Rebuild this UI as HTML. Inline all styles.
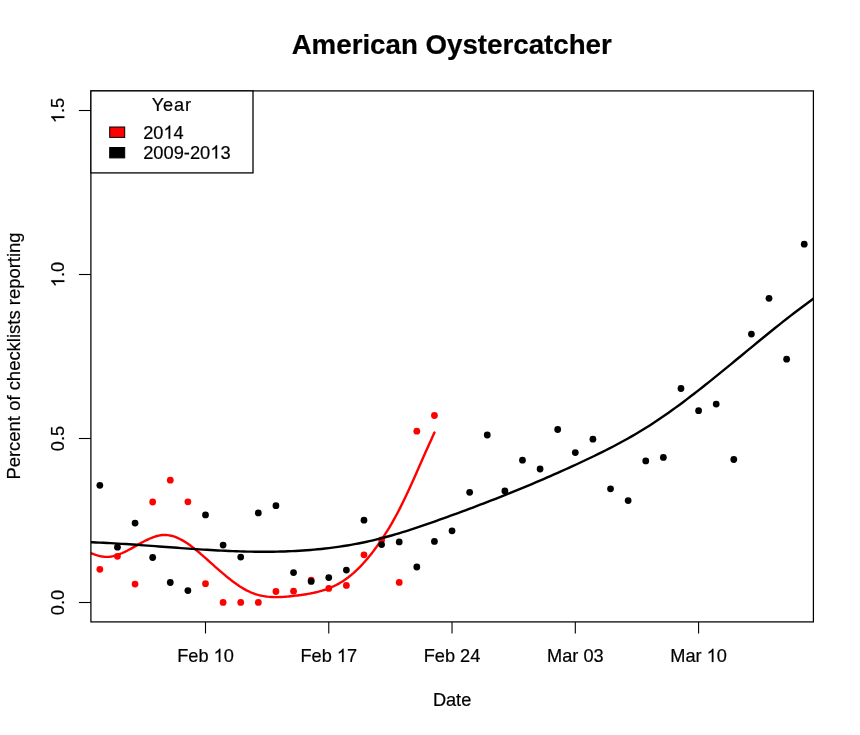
<!DOCTYPE html>
<html><head><meta charset="utf-8"><style>
html,body{margin:0;padding:0;background:#fff;}
svg{display:block;will-change:transform;}
text{font-family:"Liberation Sans",sans-serif;fill:#000;stroke:#000;stroke-width:0.2px;}
.one{fill:none;stroke:none;}
</style></head><body>
<svg width="860" height="735" viewBox="0 0 860 735">
<rect x="0" y="0" width="860" height="735" fill="#fff"/>
<defs><clipPath id="pc"><rect x="90.9" y="90.9" width="722.50" height="531.00"/></clipPath></defs>
<text x="451.7" y="54.3" text-anchor="middle" font-weight="bold" font-size="27.7">American Oystercatcher</text>
<g fill="#ff0000"><circle cx="99.84" cy="569.30" r="3.38"/><circle cx="117.45" cy="556.30" r="3.38"/><circle cx="135.06" cy="584.10" r="3.38"/><circle cx="152.67" cy="502.00" r="3.38"/><circle cx="170.28" cy="480.20" r="3.38"/><circle cx="187.89" cy="501.80" r="3.38"/><circle cx="205.50" cy="583.70" r="3.38"/><circle cx="223.11" cy="602.40" r="3.38"/><circle cx="240.72" cy="602.40" r="3.38"/><circle cx="258.33" cy="602.40" r="3.38"/><circle cx="275.94" cy="591.50" r="3.38"/><circle cx="293.55" cy="591.20" r="3.38"/><circle cx="311.16" cy="580.20" r="3.38"/><circle cx="328.77" cy="588.40" r="3.38"/><circle cx="346.38" cy="585.40" r="3.38"/><circle cx="363.99" cy="554.80" r="3.38"/><circle cx="381.60" cy="539.90" r="3.38"/><circle cx="399.21" cy="582.40" r="3.38"/><circle cx="416.82" cy="431.20" r="3.38"/><circle cx="434.43" cy="415.50" r="3.38"/></g>
<g clip-path="url(#pc)"><path d="M85.00,550.86 L86.76,551.53 L88.51,552.22 L90.27,552.90 L92.03,553.57 L93.78,554.22 L95.54,554.82 L97.29,555.37 L99.05,555.86 L100.81,556.27 L102.56,556.58 L104.32,556.80 L106.08,556.90 L107.83,556.88 L109.59,556.74 L111.34,556.51 L113.10,556.17 L114.86,555.74 L116.61,555.23 L118.37,554.64 L120.13,553.98 L121.88,553.25 L123.64,552.46 L125.39,551.62 L127.15,550.74 L128.91,549.81 L130.66,548.86 L132.42,547.88 L134.18,546.89 L135.93,545.89 L137.69,544.89 L139.44,543.90 L141.20,542.92 L142.96,541.97 L144.71,541.04 L146.47,540.15 L148.23,539.30 L149.98,538.51 L151.74,537.78 L153.49,537.11 L155.25,536.52 L157.01,536.01 L158.76,535.59 L160.52,535.27 L162.28,535.05 L164.03,534.94 L165.79,534.96 L167.55,535.09 L169.30,535.34 L171.06,535.70 L172.81,536.16 L174.57,536.73 L176.33,537.39 L178.08,538.14 L179.84,538.98 L181.60,539.90 L183.35,540.90 L185.11,541.97 L186.86,543.10 L188.62,544.30 L190.38,545.56 L192.13,546.87 L193.89,548.23 L195.65,549.63 L197.40,551.07 L199.16,552.54 L200.91,554.04 L202.67,555.57 L204.43,557.11 L206.18,558.67 L207.94,560.24 L209.70,561.82 L211.45,563.39 L213.21,564.97 L214.96,566.54 L216.72,568.10 L218.48,569.65 L220.23,571.18 L221.99,572.70 L223.75,574.19 L225.50,575.67 L227.26,577.11 L229.02,578.53 L230.77,579.91 L232.53,581.25 L234.28,582.56 L236.04,583.82 L237.80,585.04 L239.55,586.21 L241.31,587.33 L243.07,588.39 L244.82,589.39 L246.58,590.34 L248.33,591.21 L250.09,592.02 L251.85,592.76 L253.60,593.44 L255.36,594.04 L257.12,594.59 L258.87,595.07 L260.63,595.50 L262.38,595.87 L264.14,596.18 L265.90,596.45 L267.65,596.67 L269.41,596.84 L271.17,596.97 L272.92,597.06 L274.68,597.12 L276.43,597.13 L278.19,597.12 L279.95,597.07 L281.70,596.99 L283.46,596.89 L285.22,596.76 L286.97,596.62 L288.73,596.45 L290.48,596.27 L292.24,596.08 L294.00,595.88 L295.75,595.66 L297.51,595.44 L299.27,595.22 L301.02,594.98 L302.78,594.74 L304.54,594.48 L306.29,594.20 L308.05,593.91 L309.80,593.60 L311.56,593.27 L313.32,592.91 L315.07,592.52 L316.83,592.11 L318.59,591.67 L320.34,591.19 L322.10,590.67 L323.85,590.12 L325.61,589.53 L327.37,588.90 L329.12,588.22 L330.88,587.49 L332.64,586.72 L334.39,585.90 L336.15,585.02 L337.90,584.08 L339.66,583.09 L341.42,582.04 L343.17,580.93 L344.93,579.75 L346.69,578.50 L348.44,577.19 L350.20,575.80 L351.95,574.35 L353.71,572.83 L355.47,571.24 L357.22,569.58 L358.98,567.85 L360.74,566.06 L362.49,564.20 L364.25,562.27 L366.01,560.27 L367.76,558.21 L369.52,556.08 L371.27,553.88 L373.03,551.62 L374.79,549.29 L376.54,546.90 L378.30,544.44 L380.06,541.91 L381.81,539.32 L383.57,536.66 L385.32,533.94 L387.08,531.14 L388.84,528.27 L390.59,525.33 L392.35,522.30 L394.11,519.20 L395.86,516.01 L397.62,512.73 L399.37,509.35 L401.13,505.89 L402.89,502.34 L404.64,498.71 L406.40,495.01 L408.16,491.25 L409.91,487.43 L411.67,483.56 L413.42,479.66 L415.18,475.72 L416.94,471.76 L418.69,467.78 L420.45,463.79 L422.21,459.81 L423.96,455.83 L425.72,451.86 L427.47,447.92 L429.23,444.00 L430.99,440.13 L432.74,436.30 L434.50,432.53" fill="none" stroke="#ff0000" stroke-width="2.4" stroke-linecap="round" stroke-linejoin="round"/></g>
<g fill="#000"><circle cx="99.84" cy="485.30" r="3.38"/><circle cx="117.45" cy="547.20" r="3.38"/><circle cx="135.06" cy="523.10" r="3.38"/><circle cx="152.67" cy="557.50" r="3.38"/><circle cx="170.28" cy="582.50" r="3.38"/><circle cx="187.89" cy="590.60" r="3.38"/><circle cx="205.50" cy="514.90" r="3.38"/><circle cx="223.11" cy="545.10" r="3.38"/><circle cx="240.72" cy="557.10" r="3.38"/><circle cx="258.33" cy="512.90" r="3.38"/><circle cx="275.94" cy="505.70" r="3.38"/><circle cx="293.55" cy="572.60" r="3.38"/><circle cx="311.16" cy="581.40" r="3.38"/><circle cx="328.77" cy="577.60" r="3.38"/><circle cx="346.38" cy="570.10" r="3.38"/><circle cx="363.99" cy="520.20" r="3.38"/><circle cx="381.60" cy="544.60" r="3.38"/><circle cx="399.21" cy="541.90" r="3.38"/><circle cx="416.82" cy="567.00" r="3.38"/><circle cx="434.43" cy="541.40" r="3.38"/><circle cx="452.04" cy="530.80" r="3.38"/><circle cx="469.65" cy="492.30" r="3.38"/><circle cx="487.26" cy="435.00" r="3.38"/><circle cx="504.87" cy="490.90" r="3.38"/><circle cx="522.48" cy="460.20" r="3.38"/><circle cx="540.09" cy="469.00" r="3.38"/><circle cx="557.70" cy="429.50" r="3.38"/><circle cx="575.31" cy="452.60" r="3.38"/><circle cx="592.92" cy="439.20" r="3.38"/><circle cx="610.53" cy="488.80" r="3.38"/><circle cx="628.14" cy="500.60" r="3.38"/><circle cx="645.75" cy="460.90" r="3.38"/><circle cx="663.36" cy="457.40" r="3.38"/><circle cx="680.97" cy="388.50" r="3.38"/><circle cx="698.58" cy="410.70" r="3.38"/><circle cx="716.19" cy="404.10" r="3.38"/><circle cx="733.80" cy="459.50" r="3.38"/><circle cx="751.41" cy="334.10" r="3.38"/><circle cx="769.02" cy="298.30" r="3.38"/><circle cx="786.63" cy="359.20" r="3.38"/><circle cx="804.24" cy="244.20" r="3.38"/></g>
<g clip-path="url(#pc)"><path d="M85.00,542.03 L88.69,542.15 L92.39,542.29 L96.08,542.44 L99.77,542.61 L103.47,542.78 L107.16,542.97 L110.85,543.17 L114.55,543.38 L118.24,543.60 L121.93,543.83 L125.63,544.07 L129.32,544.31 L133.02,544.56 L136.71,544.82 L140.40,545.08 L144.10,545.34 L147.79,545.61 L151.48,545.88 L155.18,546.16 L158.87,546.43 L162.56,546.71 L166.26,546.99 L169.95,547.26 L173.64,547.54 L177.34,547.81 L181.03,548.08 L184.72,548.34 L188.42,548.60 L192.11,548.86 L195.80,549.11 L199.50,549.35 L203.19,549.59 L206.88,549.82 L210.58,550.03 L214.27,550.24 L217.96,550.44 L221.66,550.63 L225.35,550.81 L229.05,550.97 L232.74,551.12 L236.43,551.26 L240.13,551.38 L243.82,551.49 L247.51,551.58 L251.21,551.65 L254.90,551.71 L258.59,551.74 L262.29,551.76 L265.98,551.76 L269.67,551.74 L273.37,551.70 L277.06,551.63 L280.75,551.54 L284.45,551.43 L288.14,551.30 L291.83,551.14 L295.53,550.96 L299.22,550.75 L302.91,550.52 L306.61,550.26 L310.30,549.97 L313.99,549.65 L317.69,549.31 L321.38,548.94 L325.08,548.53 L328.77,548.10 L332.46,547.63 L336.16,547.14 L339.85,546.61 L343.54,546.05 L347.24,545.45 L350.93,544.82 L354.62,544.16 L358.32,543.46 L362.01,542.73 L365.70,541.96 L369.40,541.15 L373.09,540.30 L376.78,539.42 L380.48,538.49 L384.17,537.53 L387.86,536.53 L391.56,535.50 L395.25,534.43 L398.94,533.33 L402.64,532.20 L406.33,531.04 L410.03,529.86 L413.72,528.66 L417.41,527.43 L421.11,526.18 L424.80,524.92 L428.49,523.64 L432.19,522.35 L435.88,521.04 L439.57,519.73 L443.27,518.41 L446.96,517.08 L450.65,515.74 L454.35,514.39 L458.04,513.04 L461.73,511.68 L465.43,510.31 L469.12,508.93 L472.81,507.54 L476.51,506.15 L480.20,504.74 L483.89,503.33 L487.59,501.90 L491.28,500.47 L494.97,499.03 L498.67,497.57 L502.36,496.11 L506.06,494.64 L509.75,493.15 L513.44,491.66 L517.14,490.15 L520.83,488.63 L524.52,487.11 L528.22,485.57 L531.91,484.02 L535.60,482.46 L539.30,480.88 L542.99,479.30 L546.68,477.70 L550.38,476.09 L554.07,474.47 L557.76,472.83 L561.46,471.19 L565.15,469.53 L568.84,467.85 L572.54,466.17 L576.23,464.47 L579.92,462.75 L583.62,461.02 L587.31,459.28 L591.01,457.52 L594.70,455.74 L598.39,453.93 L602.09,452.10 L605.78,450.25 L609.47,448.36 L613.17,446.45 L616.86,444.50 L620.55,442.52 L624.25,440.50 L627.94,438.44 L631.63,436.34 L635.33,434.20 L639.02,432.01 L642.71,429.77 L646.41,427.48 L650.10,425.14 L653.79,422.75 L657.49,420.31 L661.18,417.81 L664.87,415.27 L668.57,412.68 L672.26,410.05 L675.95,407.38 L679.65,404.67 L683.34,401.92 L687.04,399.14 L690.73,396.32 L694.42,393.48 L698.12,390.60 L701.81,387.70 L705.50,384.78 L709.20,381.83 L712.89,378.87 L716.58,375.88 L720.28,372.89 L723.97,369.88 L727.66,366.85 L731.36,363.82 L735.05,360.78 L738.74,357.74 L742.44,354.70 L746.13,351.65 L749.82,348.61 L753.52,345.57 L757.21,342.54 L760.90,339.51 L764.60,336.50 L768.29,333.50 L771.98,330.51 L775.68,327.55 L779.37,324.60 L783.07,321.67 L786.76,318.76 L790.45,315.88 L794.15,313.03 L797.84,310.21 L801.53,307.42 L805.23,304.67 L808.92,301.95 L812.61,299.27 L816.31,296.63 L820.00,294.03" fill="none" stroke="#000" stroke-width="2.4" stroke-linecap="round" stroke-linejoin="round"/></g>
<rect x="90.9" y="90.9" width="722.50" height="531.00" fill="none" stroke="#000" stroke-width="1.25"/>
<g stroke="#000" stroke-width="1.1"><line x1="205.50" y1="621.9" x2="205.50" y2="633.50"/><line x1="328.77" y1="621.9" x2="328.77" y2="633.50"/><line x1="452.04" y1="621.9" x2="452.04" y2="633.50"/><line x1="575.31" y1="621.9" x2="575.31" y2="633.50"/><line x1="698.58" y1="621.9" x2="698.58" y2="633.50"/><line x1="90.9" y1="602.50" x2="78.90" y2="602.50"/><line x1="90.9" y1="438.50" x2="78.90" y2="438.50"/><line x1="90.9" y1="274.50" x2="78.90" y2="274.50"/><line x1="90.9" y1="110.50" x2="78.90" y2="110.50"/></g>
<g font-size="18.2"><text x="205.50" y="661.9" text-anchor="middle">Feb <tspan class="one">1</tspan>0</text><text x="328.77" y="661.9" text-anchor="middle">Feb <tspan class="one">1</tspan>7</text><text x="452.04" y="661.9" text-anchor="middle">Feb 24</text><text x="575.31" y="661.9" text-anchor="middle">Mar 03</text><text x="698.58" y="661.9" text-anchor="middle">Mar <tspan class="one">1</tspan>0</text><text transform="translate(64.3,602.50) rotate(-90)" text-anchor="middle">0.0</text><text transform="translate(64.3,438.50) rotate(-90)" text-anchor="middle">0.5</text><text transform="translate(64.3,274.50) rotate(-90)" text-anchor="middle"><tspan class="one">1</tspan>.0</text><text transform="translate(64.3,110.50) rotate(-90)" text-anchor="middle"><tspan class="one">1</tspan>.5</text>
<text x="452.1" y="705.9" text-anchor="middle">Date</text>
<text transform="translate(20.2,356.0) rotate(-90)" text-anchor="middle" font-size="18.47">Percent of checklists reporting</text>
</g>
<rect x="90.9" y="90.9" width="162.1" height="82.0" fill="#fff" stroke="#000" stroke-width="1.3"/>
<g font-size="18.2">
<text x="151.8" y="110.8" letter-spacing="0.8">Year</text>
<text x="143.2" y="138.7">20<tspan class="one">1</tspan>4</text>
<text x="143.2" y="158.5" font-size="18.3">2009-20<tspan class="one">1</tspan>3</text>
</g>
<rect x="109.7" y="127" width="15" height="10.4" fill="#ff0000" stroke="#000" stroke-width="1"/>
<rect x="109.7" y="147.5" width="15" height="10.4" fill="#000" stroke="#000" stroke-width="1"/>
<g><path d="M763 0H583V1147Q518 1085 412.5 1023Q307 961 223 930V1104Q374 1175 487 1276Q600 1377 647 1472H763Z" transform=" translate(213.578,661.900) scale(0.008887,-0.008887)" fill="#000" stroke="#000" stroke-width="22.5"/><path d="M763 0H583V1147Q518 1085 412.5 1023Q307 961 223 930V1104Q374 1175 487 1276Q600 1377 647 1472H763Z" transform=" translate(336.848,661.900) scale(0.008887,-0.008887)" fill="#000" stroke="#000" stroke-width="22.5"/><path d="M763 0H583V1147Q518 1085 412.5 1023Q307 961 223 930V1104Q374 1175 487 1276Q600 1377 647 1472H763Z" transform=" translate(706.643,661.900) scale(0.008887,-0.008887)" fill="#000" stroke="#000" stroke-width="22.5"/><path d="M763 0H583V1147Q518 1085 412.5 1023Q307 961 223 930V1104Q374 1175 487 1276Q600 1377 647 1472H763Z" transform="translate(64.3,274.50) rotate(-90) translate(-12.648,0.000) scale(0.008887,-0.008887)" fill="#000" stroke="#000" stroke-width="22.5"/><path d="M763 0H583V1147Q518 1085 412.5 1023Q307 961 223 930V1104Q374 1175 487 1276Q600 1377 647 1472H763Z" transform="translate(64.3,110.50) rotate(-90) translate(-12.648,0.000) scale(0.008887,-0.008887)" fill="#000" stroke="#000" stroke-width="22.5"/><path d="M763 0H583V1147Q518 1085 412.5 1023Q307 961 223 930V1104Q374 1175 487 1276Q600 1377 647 1472H763Z" transform=" translate(163.434,138.700) scale(0.008887,-0.008887)" fill="#000" stroke="#000" stroke-width="22.5"/><path d="M763 0H583V1147Q518 1085 412.5 1023Q307 961 223 930V1104Q374 1175 487 1276Q600 1377 647 1472H763Z" transform=" translate(210.294,158.500) scale(0.008936,-0.008936)" fill="#000" stroke="#000" stroke-width="22.4"/></g>
</svg>
</body></html>
